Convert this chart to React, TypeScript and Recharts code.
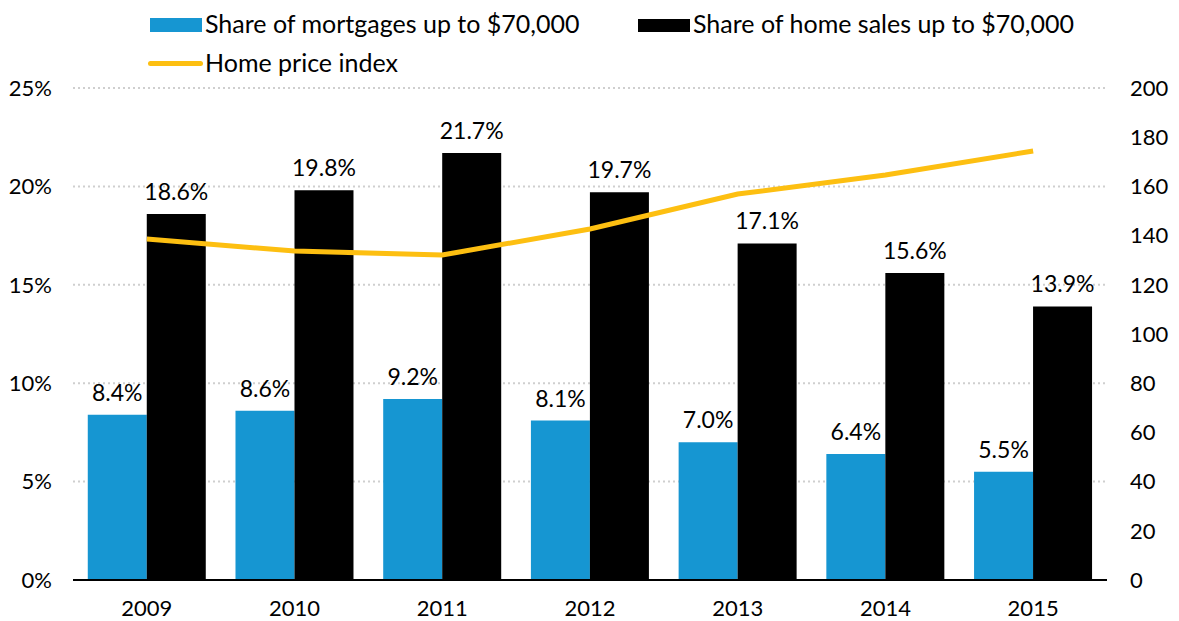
import { Bar, CartesianGrid, ComposedChart, LabelList, Legend, Line, XAxis, YAxis } from "recharts";

const years = ["2009", "2010", "2011", "2012", "2013", "2014", "2015"];
const mortgageShare = [8.4, 8.6, 9.2, 8.1, 7.0, 6.4, 5.5];
const salesShare = [18.6, 19.8, 21.7, 19.7, 17.1, 15.6, 13.9];
const priceIndex = [138.6, 133.7, 132.1, 142.7, 156.9, 164.6, 174.4];

const leftTicks = [0, 5, 10, 15, 20, 25];
const rightTicks = [0, 20, 40, 60, 80, 100, 120, 140, 160, 180, 200];

const BLUE = "#1696d2";
const BLACK = "#000000";
const YELLOW = "#fdbf11";
const FONT = "Lato, sans-serif";

const data = years.map((year, i) => ({
  year,
  mortgages: mortgageShare[i],
  sales: salesShare[i],
  hpi: priceIndex[i],
}));

function fmtPct(v: number | string): string {
  return `${Number(v).toFixed(1)}%`;
}

// legend sits in the 80px band above the plot (plot top = 88)
function ChartLegend() {
  const text = { position: "absolute" as const, fontSize: 25, color: "#000", lineHeight: "30px", whiteSpace: "nowrap" as const };
  return (
    <div style={{ position: "relative", width: 1179, height: 80, fontFamily: FONT }}>
      <div style={{ position: "absolute", left: 150, top: 18, width: 52, height: 14, background: BLUE }} />
      <div style={{ ...text, left: 205, top: 8 }}>Share of mortgages up to $70,000</div>
      <div style={{ position: "absolute", left: 638, top: 19, width: 52, height: 13, background: BLACK }} />
      <div style={{ ...text, left: 693, top: 8 }}>Share of home sales up to $70,000</div>
      <div style={{ position: "absolute", left: 148, top: 61, width: 55, height: 5, borderRadius: 3, background: YELLOW }} />
      <div style={{ ...text, left: 205, top: 47 }}>Home price index</div>
    </div>
  );
}

export default function App() {
  const tickStyle = { fontSize: 22, fill: "#000", fontFamily: FONT };
  const labelStyle = { fontSize: 23, fill: "#000", fontFamily: FONT };
  return (
    <div style={{ position: "absolute", left: 0, top: 0, width: 1179, height: 621, background: "#fff", fontFamily: FONT }}>
      <ComposedChart
        width={1179}
        height={621}
        data={data}
        margin={{ top: 8, right: 0, left: 0, bottom: 0 }}
        barGap={0}
        barCategoryGap="10%"
      >
        <CartesianGrid yAxisId="left" vertical={false} stroke="#cfcfcf" strokeDasharray="2 3" strokeWidth={2} />
        <XAxis
          dataKey="year"
          height={41}
          tickLine={false}
          axisLine={{ stroke: "#000", strokeWidth: 2 }}
          tickMargin={14}
          tick={tickStyle}
        />
        <YAxis
          yAxisId="left"
          width={73}
          domain={[0, 25]}
          ticks={leftTicks}
          tickFormatter={(v: number) => `${v}%`}
          axisLine={false}
          tickLine={false}
          tickSize={0}
          tickMargin={21}
          tick={tickStyle}
        />
        <YAxis
          yAxisId="right"
          orientation="right"
          width={72}
          domain={[0, 200]}
          ticks={rightTicks}
          axisLine={false}
          tickLine={false}
          tickSize={0}
          tickMargin={23}
          tick={{ ...tickStyle, textAnchor: "start" }}
        />
        <Legend verticalAlign="top" height={80} wrapperStyle={{ position: "absolute", left: 0, top: 0 }} content={() => <ChartLegend />} />
        <Bar yAxisId="left" dataKey="mortgages" fill={BLUE} isAnimationActive={false}>
          <LabelList dataKey="mortgages" position="top" offset={14} formatter={fmtPct} style={labelStyle} />
        </Bar>
        <Bar yAxisId="left" dataKey="sales" fill={BLACK} isAnimationActive={false}>
          <LabelList dataKey="sales" position="top" offset={14} formatter={fmtPct} style={labelStyle} />
        </Bar>
        <Line
          yAxisId="right"
          type="linear"
          dataKey="hpi"
          stroke={YELLOW}
          strokeWidth={5}
          dot={false}
          activeDot={false}
          isAnimationActive={false}
        />
      </ComposedChart>
    </div>
  );
}
